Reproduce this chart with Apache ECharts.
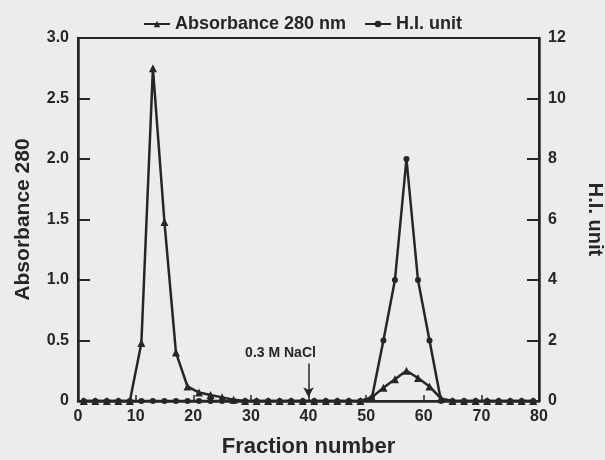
<!DOCTYPE html>
<html>
<head>
<meta charset="utf-8">
<script src="https://cdn.jsdelivr.net/npm/echarts@6/dist/echarts.min.js"></script>
<style>
  html, body { margin: 0; padding: 0; background: #ececea; }
  #chart { width: 605px; height: 460px; }
</style>
</head>
<body>
<div id="chart"></div>
<script>
// fraction numbers (every 2nd fraction collected)
const fractions = [1, 3, 5, 7, 9, 11, 13, 15, 17, 19, 21, 23, 25, 27, 29, 31, 33, 35, 37, 39,
    41, 43, 45, 47, 49, 51, 53, 55, 57, 59, 61, 63, 65, 67, 69, 71, 73, 75, 77, 79]

const absorbance = [0, 0, 0, 0, 0, 0.48, 2.75, 1.48, 0.40, 0.12, 0.07, 0.05, 0.03, 0.01, 0, 0, 0, 0, 0, 0,
    0, 0, 0, 0, 0, 0.03, 0.11, 0.18, 0.25, 0.19, 0.12, 0.02, 0, 0, 0, 0, 0, 0, 0, 0]

const hiUnit = [0, 0, 0, 0, 0, 0, 0, 0, 0, 0, 0, 0, 0, 0, 0, 0, 0, 0, 0, 0,
    0, 0, 0, 0, 0, 0.1, 2, 4, 8, 4, 2, 0, 0, 0, 0, 0, 0, 0, 0, 0]

const xTicks = [0, 10, 20, 30, 40, 50, 60, 70, 80]
const nacl = { fraction: 40, from: 0.31, to: 0.03, label: '0.3 M NaCl' }

const ink = '#262626'
const font = '"Liberation Sans", Arial, sans-serif'

const pairs = (ys) => fractions.map((x, i) => [x, ys[i]])

const chart = echarts.init(document.getElementById('chart'), null, { renderer: 'canvas' })

const tickLabel = { margin: 9, fontFamily: font, fontWeight: 'bold', fontSize: 16, color: ink }
const nameStyle = { fontFamily: font, fontWeight: 'bold', fontSize: 21, color: ink }

chart.setOption({
    backgroundColor: '#ececea',
    animation: false,
    textStyle: { fontFamily: font },
    legend: {
        top: 10,
        left: 'center',
        itemGap: 18,
        itemWidth: 26,
        itemHeight: 8,
        textStyle: { fontFamily: font, fontWeight: 'bold', fontSize: 18, color: ink },
        data: ['Absorbance 280 nm', 'H.I. unit'],
    },
    grid: {
        left: 78, right: 66, top: 38, bottom: 59,
        outerBoundsMode: 'none',
        show: true, borderColor: ink, borderWidth: 2,
    },
    xAxis: {
        type: 'value',
        min: 0, max: 80, interval: 10,
        name: 'Fraction number',
        nameLocation: 'middle',
        nameGap: 35,
        nameTextStyle: Object.assign({}, nameStyle, { fontSize: 22 }),
        axisLine: { lineStyle: { color: ink, width: 2.5 } },
        axisTick: { inside: true, length: 6, lineStyle: { color: ink, width: 1.5 } },
        axisLabel: Object.assign({}, tickLabel, {
            margin: 8,
            formatter: (v) => xTicks.includes(v) ? String(v) : '',
        }),
        splitLine: { show: false },
    },
    yAxis: [
        {
            type: 'value',
            min: 0, max: 3, interval: 0.5,
            position: 'left',
            name: 'Absorbance 280',
            nameLocation: 'middle',
            nameRotate: 90,
            nameGap: 44,
            nameTextStyle: nameStyle,
            axisLine: { show: true, lineStyle: { color: ink, width: 2.5 } },
            axisTick: { show: true, inside: true, length: 12, lineStyle: { color: ink, width: 2 } },
            axisLabel: Object.assign({}, tickLabel, {
                formatter: (v) => v === 0 ? '0' : v.toFixed(1),
            }),
            splitLine: { show: false },
        },
        {
            type: 'value',
            min: 0, max: 12, interval: 2,
            position: 'right',
            name: 'H.I. unit',
            nameLocation: 'middle',
            nameRotate: -90,
            nameGap: 46,
            nameTextStyle: Object.assign({}, nameStyle, { fontSize: 20 }),
            axisLine: { show: true, lineStyle: { color: ink, width: 2.5 } },
            axisTick: { show: true, inside: true, length: 12, lineStyle: { color: ink, width: 2 } },
            axisLabel: tickLabel,
            splitLine: { show: false },
        },
    ],
    series: [
        {
            name: 'Absorbance 280 nm',
            type: 'line',
            yAxisIndex: 0,
            data: pairs(absorbance),
            symbol: 'triangle',
            symbolSize: 8,
            lineStyle: { color: ink, width: 2.5 },
            itemStyle: { color: ink },
            z: 3,
            markLine: {
                silent: true,
                symbol: ['none', 'arrow'],
                symbolSize: [8, 10],
                lineStyle: { color: ink, width: 1.5, type: 'solid' },
                label: {
                    show: true, position: 'start', formatter: nacl.label, offset: [-28, 2],
                    fontFamily: font, fontWeight: 'bold', fontSize: 14, color: ink,
                },
                data: [[
                    { coord: [nacl.fraction, nacl.from] },
                    { coord: [nacl.fraction, nacl.to] },
                ]],
            },
        },
        {
            name: 'H.I. unit',
            type: 'line',
            yAxisIndex: 1,
            data: pairs(hiUnit),
            symbol: 'circle',
            symbolSize: 6,
            lineStyle: { color: ink, width: 2.5 },
            itemStyle: { color: ink },
            z: 4,
        },
    ],
})
</script>
</body>
</html>
